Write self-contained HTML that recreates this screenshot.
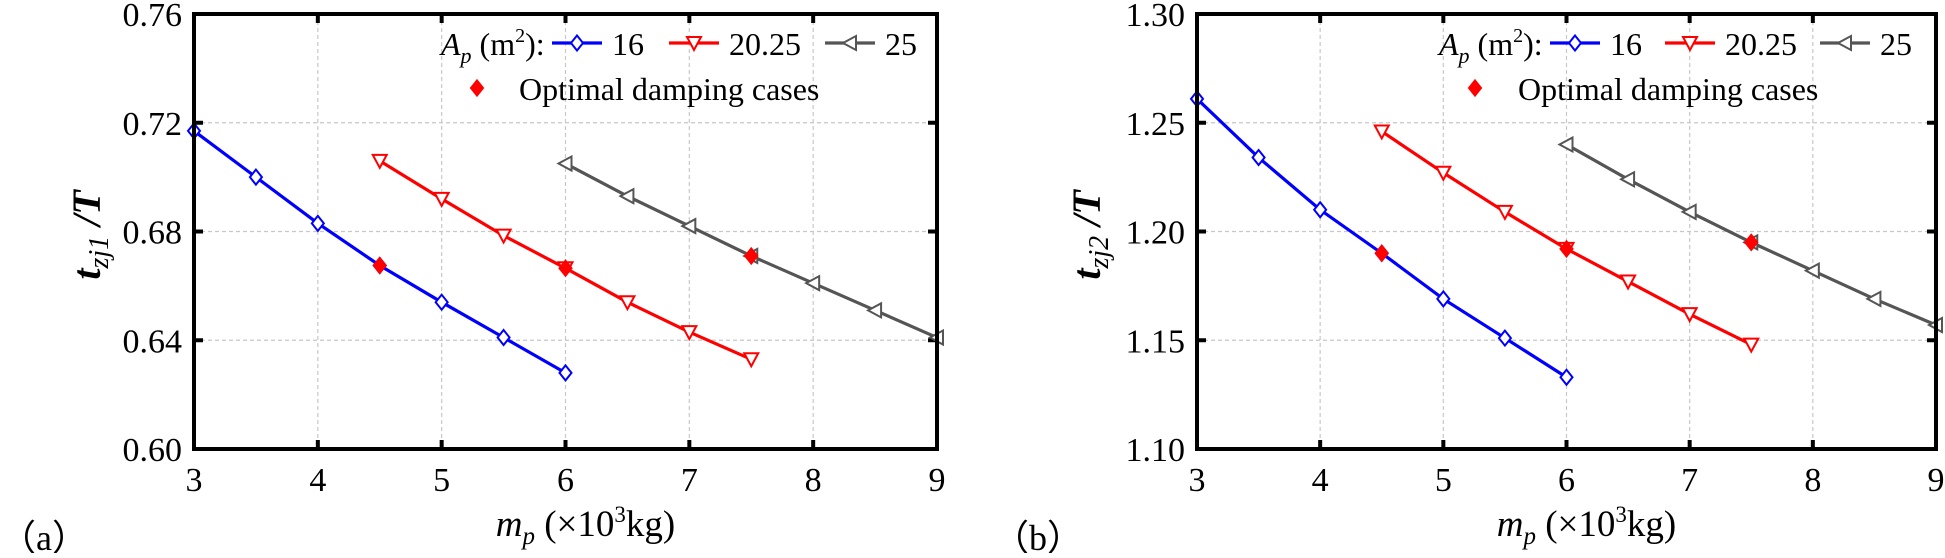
<!DOCTYPE html>
<html><head><meta charset="utf-8"><style>
html,body{margin:0;padding:0;background:#fff;}
svg, svg text{font-family:"Liberation Serif","DejaVu Serif",serif;}
</style></head><body>
<svg id="s" width="1945" height="553" xmlns="http://www.w3.org/2000/svg" font-family="Liberation Serif, DejaVu Serif, serif"></svg>
<script>
const S=document.getElementById('s');let h='';
const FF='font-family="Liberation Serif, DejaVu Serif, serif"';
function panel(o){
 const X=v=>o.x0+(v-3)*(o.x1-o.x0)/6, Y=v=>o.y0+(o.ymax-v)/(o.ymax-o.ymin)*(o.y1-o.y0);
 for(let i=4;i<=8;i++)h+=`<line x1="${X(i)}" y1="${o.y0}" x2="${X(i)}" y2="${o.y1}" stroke="#c8c8c8" stroke-width="1.2" stroke-dasharray="4,3"/>`;
 o.yt.forEach((t,i)=>{if(i>0&&i<o.yt.length-1)h+=`<line x1="${o.x0}" y1="${Y(t)}" x2="${o.x1}" y2="${Y(t)}" stroke="#c8c8c8" stroke-width="1.2" stroke-dasharray="4,3"/>`;});
 for(let i=3;i<=9;i++){h+=`<line x1="${X(i)}" y1="${o.y1}" x2="${X(i)}" y2="${o.y1-9}" stroke="#000" stroke-width="4"/><line x1="${X(i)}" y1="${o.y0}" x2="${X(i)}" y2="${o.y0+9}" stroke="#000" stroke-width="4"/>`;
  h+=`<text ${FF} x="${X(i)}" y="491" font-size="34" text-anchor="middle">${i}</text>`;}
 o.yt.forEach(t=>{h+=`<line x1="${o.x0}" y1="${Y(t)}" x2="${o.x0+9}" y2="${Y(t)}" stroke="#000" stroke-width="4"/><line x1="${o.x1}" y1="${Y(t)}" x2="${o.x1-9}" y2="${Y(t)}" stroke="#000" stroke-width="4"/>`;
  h+=`<text ${FF} x="${o.x0-12}" y="${Y(t)+12}" font-size="34" text-anchor="end">${t.toFixed(2)}</text>`;});
 const cols=['#0000ff','#ff0000','#555555'];
 o.d.forEach((s,k)=>{
  const pts=s.map((v,i)=>[X(o.xs[k]+i*0.5),Y(v)]);
  h+=`<polyline points="${pts.map(p=>p.join(',')).join(' ')}" fill="none" stroke="${cols[k]}" stroke-width="3.2"/>`;
  pts.forEach(p=>h+=mk(k,p[0],p[1]));
 });
 o.opt.forEach(p=>h+=dia(X(p[0]),Y(p[1]),'#ff0000','#ff0000'));
 h+=`<rect x="${o.x0}" y="${o.y0}" width="${o.x1-o.x0}" height="${o.y1-o.y0}" fill="none" stroke="#000" stroke-width="4"/>`;
 const L=o.L;
 h+=`<text ${FF} x="${L.a}" y="55" font-size="32"><tspan font-style="italic">A</tspan><tspan font-style="italic" font-size="22" dy="8">p</tspan><tspan dy="-8"> (m</tspan><tspan font-size="20" dy="-13">2</tspan><tspan dy="13">):</tspan></text>`;
 [[L.b,'16'],[L.r,'20.25'],[L.g,'25']].forEach((e,k)=>{h+=`<line x1="${e[0]-25}" y1="43" x2="${e[0]+25}" y2="43" stroke="${cols[k]}" stroke-width="3.2"/>`+mk(k,e[0],43)+`<text ${FF} x="${e[0]+35}" y="55" font-size="32">${e[1]}</text>`;});
 h+=dia(L.d,88,'#ff0000','#ff0000')+`<text ${FF} x="${L.t}" y="100" font-size="32">Optimal damping cases</text>`;
 const cx=(o.x0+o.x1)/2+20;
 h+=`<text ${FF} x="${cx}" y="536" font-size="37" text-anchor="middle"><tspan font-style="italic">m</tspan><tspan font-style="italic" font-size="25" dy="8">p</tspan><tspan dy="-8"> (×10</tspan><tspan font-size="23" dy="-14">3</tspan><tspan dy="14">kg)</tspan></text>`;
 h+=`<text ${FF} transform="translate(${o.lx},235) rotate(-90)" font-size="40" text-anchor="middle"><tspan font-style="italic" font-weight="bold">t</tspan><tspan font-style="italic" font-size="28" dy="8">zj${o.n}</tspan><tspan dy="-8" font-style="italic" font-weight="bold"> /T</tspan></text>`;
}
function dia(x,y,f,s){return `<polygon points="${x},${y-7.5} ${x+6},${y} ${x},${y+7.5} ${x-6},${y}" fill="${f}" stroke="${s}" stroke-width="2"/>`;}
function mk(k,x,y){
 if(k==0)return dia(x,y,'#fff','#0000ff');
 if(k==1)return `<polygon points="${x-7},${y-6} ${x+7},${y-6} ${x},${y+7}" fill="#fff" stroke="#ff0000" stroke-width="2"/>`;
 return `<polygon points="${x-7},${y} ${x+6},${y-7} ${x+6},${y+7}" fill="#fff" stroke="#555" stroke-width="2"/>`;
}
panel({x0:194,x1:937,y0:14,y1:449,ymin:0.60,ymax:0.76,yt:[0.60,0.64,0.68,0.72,0.76],n:1,lx:100,xs:[3,4.5,6],
 d:[[0.717,0.700,0.683,0.6675,0.654,0.641,0.628],[0.706,0.692,0.6785,0.6665,0.654,0.643,0.633],[0.705,0.693,0.682,0.671,0.661,0.651,0.641]],
 opt:[[4.5,0.6675],[6,0.6665],[7.5,0.671]],L:{a:441,b:577,r:694,g:850,d:477,t:519}});
panel({x0:1197,x1:1936,y0:14,y1:449,ymin:1.10,ymax:1.30,yt:[1.10,1.15,1.20,1.25,1.30],n:2,lx:1100,xs:[3,4.5,6],
 d:[[1.261,1.234,1.210,1.190,1.169,1.151,1.133],[1.246,1.227,1.209,1.192,1.177,1.162,1.148],[1.240,1.224,1.209,1.195,1.182,1.169,1.157]],
 opt:[[4.5,1.190],[6,1.192],[7.5,1.195]],L:{a:1439,b:1575,r:1690,g:1845,d:1475,t:1518}});
h+=`<text x="0" y="550" font-size="36" font-family="Liberation Serif, Noto Serif CJK SC, serif">（a）</text>`;
h+=`<text x="993" y="550" font-size="36" font-family="Liberation Serif, Noto Serif CJK SC, serif">（b）</text>`;
S.innerHTML=h;
</script>
</body></html>
